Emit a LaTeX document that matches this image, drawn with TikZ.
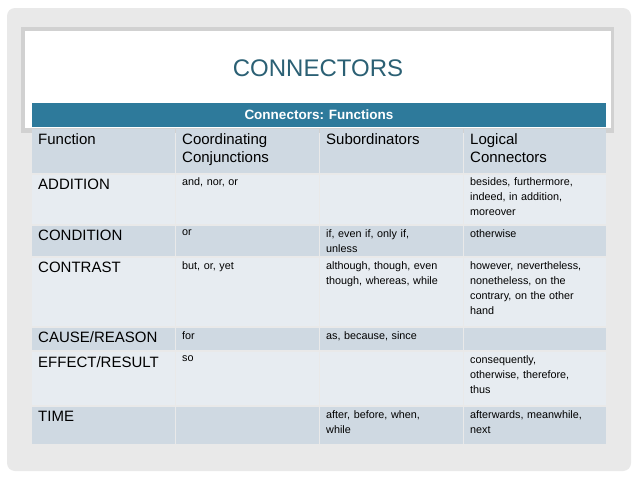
\documentclass[tikz,border=0pt]{standalone}
\usepackage{fontspec}
\setmainfont{Liberation Sans}
\definecolor{teal}{HTML}{2E7A9B}
\definecolor{dk}{HTML}{CFD9E2}
\definecolor{lt}{HTML}{E7ECF1}
\definecolor{ttl}{HTML}{2B6074}
\definecolor{bg}{HTML}{E9E9E9}
\begin{document}
\begin{tikzpicture}[x=1pt,y=-1pt,
 big/.style={anchor=north west,inner sep=0pt,font=\fontsize{15}{18}\selectfont,align=left,text width=138pt},
 sm/.style={anchor=north west,inner sep=0pt,font=\fontsize{10.8}{15}\selectfont,align=left,text width=138pt}]
\useasboundingbox (0,0) rectangle (638,479);
\fill[white] (0,0) rectangle (638,479);
\fill[bg,rounded corners=8pt] (7,8) rectangle (631,471);
\fill[black!18] (21,27) rectangle (614,133);
\fill[white] (25,31) rectangle (611,128);
\node (title) at (318,68) {\color{ttl}\fontsize{24}{28}\selectfont CONNECTORS};
% table
\fill[teal] (32,103) rectangle (606,127);
\node[white,font=\bfseries\fontsize{13.5}{16}\selectfont] (hdr) at (319,115) {Connectors: Functions};
\def\rows{128/173/dk,174/224/lt,225/256/dk,257/326/lt,327/350/dk,351/405/lt,406/444/dk}
\foreach \a/\b/\c in \rows {
 \foreach \xa/\xb in {32/175,176/319,320/463,464/606}
  \fill[\c] (\xa,\a+0.5) rectangle (\xb,\b-0.5);
}
\node[big] (h1) at (38,133) {Function};
\node[big] (h2) at (182,133) {Coordinating\\Conjunctions};
\node[big] (h3) at (326,133) {Subordinators};
\node[big] (h4) at (470,133) {Logical\\Connectors};
\node[big] (r1) at (38,179) {ADDITION};
\node[sm] (r1b) at (182,177) {and, nor, or};
\node[sm] (r1d) at (470,177) {besides, furthermore,\\indeed, in addition,\\moreover};
\node[big] (r2) at (38,230) {CONDITION};
\node[sm] (r2b) at (182,229) {or};
\node[sm] (r2c) at (326,229) {if, even if, only if,\\unless};
\node[sm] (r2d) at (470,229) {otherwise};
\node[big] (r3) at (38,262) {CONTRAST};
\node[sm] (r3b) at (182,261) {but, or, yet};
\node[sm] (r3c) at (326,261) {although, though, even\\though, whereas, while};
\node[sm] (r3d) at (470,261) {however, nevertheless,\\nonetheless, on the\\contrary, on the other\\hand};
\node[big] (r4) at (38,331) {CAUSE/REASON};
\node[sm] (r4b) at (182,331) {for};
\node[sm] (r4c) at (326,331) {as, because, since};
\node[big] (r5) at (38,356) {EFFECT/RESULT};
\node[sm] (r5b) at (182,355) {so};
\node[sm] (r5d) at (470,355) {consequently,\\otherwise, therefore,\\thus};
\node[big] (r6) at (38,411) {TIME};
\node[sm] (r6c) at (326,410) {after, before, when,\\while};
\node[sm] (r6d) at (470,410) {afterwards, meanwhile,\\next};
\end{tikzpicture}
\end{document}
